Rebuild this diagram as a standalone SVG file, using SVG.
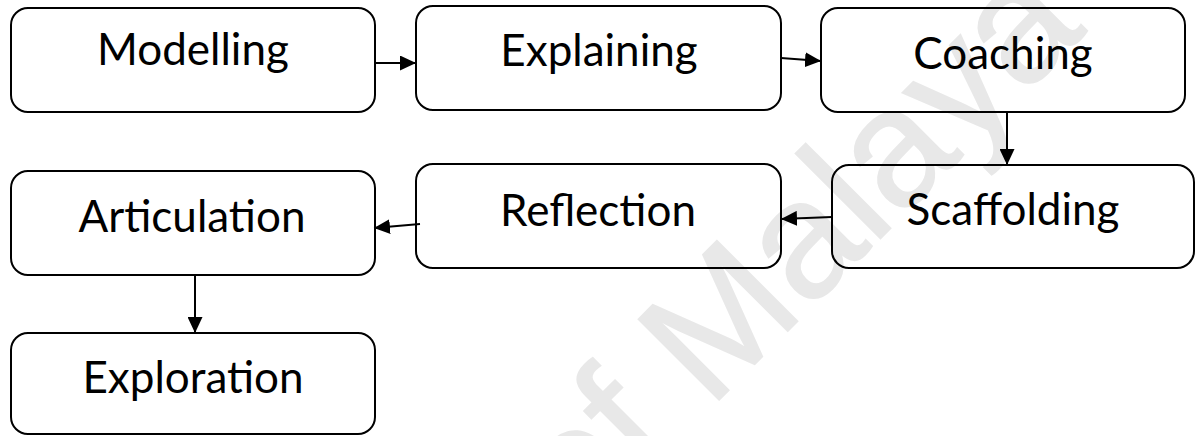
<svg xmlns="http://www.w3.org/2000/svg" width="1196" height="436" viewBox="0 0 1196 436">
  <style>
    .box { fill: none; stroke: #000000; stroke-width: 2; }
    .label { font-family: Lato, "Open Sans", "Liberation Sans", sans-serif; font-size: 44px; fill: #000000; text-anchor: middle; }
    .link { fill: none; stroke: #000000; stroke-width: 2; marker-end: url(#head); }
    .mark { font-family: "Liberation Sans", Arial, sans-serif; font-size: 166px; fill: #e8e8e8; stroke: #e8e8e8; stroke-width: 1.5; }
  </style>
  <defs>
    <marker id="head" markerUnits="userSpaceOnUse" markerWidth="17" markerHeight="15" refX="16" refY="7.5" orient="auto">
      <path d="M0,0 L16,7.5 L0,15 z" fill="#000000"/>
    </marker>
  </defs>

  <rect width="1196" height="436" fill="#ffffff"/>

  <!-- background watermark, seen through the open boxes -->
  <text class="mark" transform="translate(579,540) rotate(-45)">of Malaya</text>

  <g id="connectors">
    <line class="link" x1="375" y1="63" x2="416" y2="63"/>
    <line class="link" x1="781" y1="58" x2="821" y2="61"/>
    <line class="link" x1="1007" y1="112" x2="1007" y2="165"/>
    <line class="link" x1="832" y1="217" x2="781" y2="219"/>
    <line class="link" x1="420" y1="224" x2="374" y2="228"/>
    <line class="link" x1="195" y1="275" x2="195" y2="333"/>
  </g>

  <g id="modelling">
    <rect class="box" x="11" y="8" width="364" height="104" rx="17"/>
    <text class="label" x="193" y="65">Modelling</text>
  </g>
  <g id="explaining">
    <rect class="box" x="416" y="6" width="365" height="104" rx="17"/>
    <text class="label" x="599" y="66">Explaining</text>
  </g>
  <g id="coaching">
    <rect class="box" x="821" y="8" width="364" height="104" rx="17"/>
    <text class="label" x="1003" y="69">Coaching</text>
  </g>
  <g id="scaffolding">
    <rect class="box" x="832" y="165" width="362" height="103" rx="17"/>
    <text class="label" x="1013" y="225">Scaffolding</text>
  </g>
  <g id="reflection">
    <rect class="box" x="416" y="164" width="365" height="104" rx="17"/>
    <text class="label" x="598" y="226">Reflection</text>
  </g>
  <g id="articulation">
    <rect class="box" x="11" y="171" width="364" height="104" rx="17"/>
    <text class="label" x="192" y="232">Articulation</text>
  </g>
  <g id="exploration">
    <rect class="box" x="11" y="333" width="364" height="101" rx="17"/>
    <text class="label" x="193" y="393">Exploration</text>
  </g>
</svg>
